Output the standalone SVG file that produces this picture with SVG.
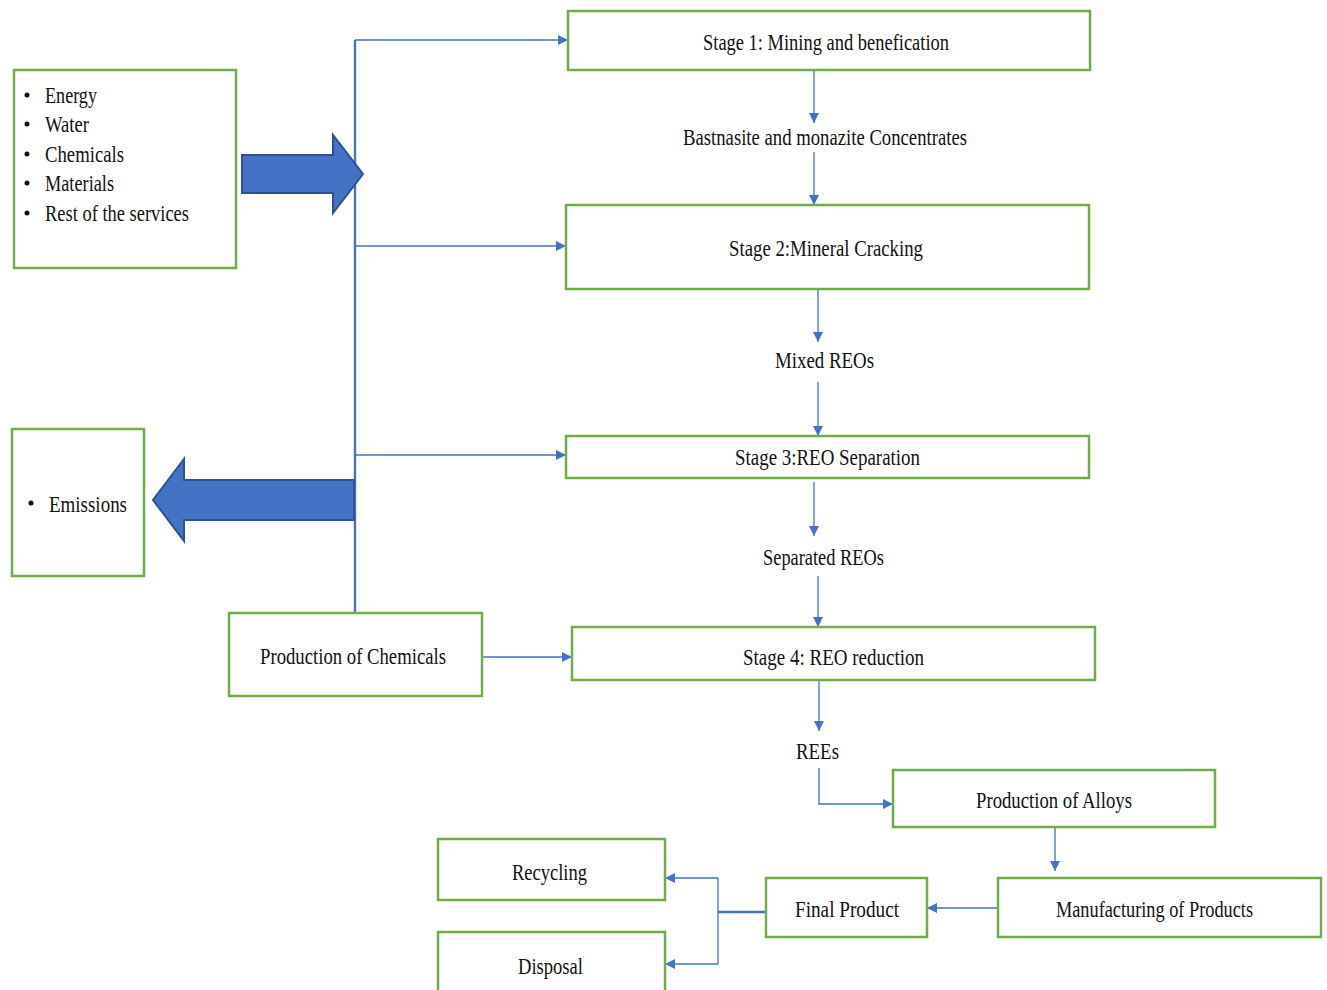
<svg xmlns="http://www.w3.org/2000/svg" width="1327" height="990" viewBox="0 0 1327 990">
  <style>
    .box { fill: #ffffff; stroke: #70AD47; stroke-width: 2.5; }
    .lbl { font-family: "Liberation Serif", "Times New Roman", serif; font-size: 23px; fill: #111111; }
    .link { fill: none; stroke: #4472C4; stroke-width: 1.3; }
    .trunk { fill: none; stroke: #4472C4; stroke-width: 2.4; }
    .bigarrow { fill: #4472C4; stroke: #2F528F; stroke-width: 2; }
  </style>
  <defs>
    <marker id="head" markerUnits="userSpaceOnUse" markerWidth="12" markerHeight="12" refX="10" refY="5" orient="auto">
      <path d="M0,0 L10,5 L0,10 Z" fill="#4472C4"/>
    </marker>
  </defs>

  <rect width="1327" height="990" fill="#ffffff"/>

  <!-- Connectors -->
  <g id="connectors">
    <!-- shared trunk with branches to the stages -->
    <line class="trunk" x1="355" y1="40" x2="355" y2="613"/>
    <line class="link" x1="355" y1="40" x2="568" y2="40" marker-end="url(#head)"/>
    <line class="link" x1="355" y1="246" x2="566" y2="246" marker-end="url(#head)"/>
    <line class="link" x1="355" y1="455" x2="566" y2="455" marker-end="url(#head)"/>

    <!-- main process chain -->
    <line class="link" x1="814" y1="71" x2="814" y2="123" marker-end="url(#head)"/>
    <line class="link" x1="814" y1="152" x2="814" y2="205" marker-end="url(#head)"/>
    <line class="link" x1="818" y1="289" x2="818" y2="342" marker-end="url(#head)"/>
    <line class="link" x1="818" y1="382" x2="818" y2="436" marker-end="url(#head)"/>
    <line class="link" x1="814" y1="482" x2="814" y2="536" marker-end="url(#head)"/>
    <line class="link" x1="818" y1="576" x2="818" y2="627" marker-end="url(#head)"/>
    <line class="link" x1="819" y1="680" x2="819" y2="731" marker-end="url(#head)"/>
    <path class="link" d="M819,768 L819,804 L893,804" marker-end="url(#head)"/>
    <line class="link" x1="1055" y1="827" x2="1055" y2="871" marker-end="url(#head)"/>
    <line class="link" x1="998" y1="908" x2="927" y2="908" marker-end="url(#head)"/>

    <!-- chemicals feed into stage 4 -->
    <line class="link" x1="482" y1="657" x2="572" y2="657" marker-end="url(#head)"/>

    <!-- end of life split -->
    <line class="trunk" x1="766" y1="912" x2="718" y2="912"/>
    <path class="link" d="M718,878 L718,964"/>
    <line class="link" x1="718" y1="878" x2="665" y2="878" marker-end="url(#head)"/>
    <line class="link" x1="718" y1="964" x2="665" y2="964" marker-end="url(#head)"/>

    <!-- block arrows -->
    <path class="bigarrow" d="M242,155 L333,155 L333,135 L363,174 L333,213 L333,193 L242,193 Z"/>
    <path class="bigarrow" d="M354,480 L184,480 L184,459 L153,500 L184,541 L184,520 L354,520 Z"/>
  </g>

  <!-- Nodes -->
  <g id="inputs">
    <rect class="box" x="14" y="70" width="222" height="198"/>
    <g fill="#111111">
      <circle cx="27" cy="95" r="2.5"/>
      <circle cx="27" cy="124" r="2.5"/>
      <circle cx="27" cy="154" r="2.5"/>
      <circle cx="27" cy="183" r="2.5"/>
      <circle cx="27" cy="213" r="2.5"/>
    </g>
    <text class="lbl" x="45" y="103" textLength="52" lengthAdjust="spacingAndGlyphs">Energy</text>
    <text class="lbl" x="45" y="132" textLength="44" lengthAdjust="spacingAndGlyphs">Water</text>
    <text class="lbl" x="45" y="162" textLength="79" lengthAdjust="spacingAndGlyphs">Chemicals</text>
    <text class="lbl" x="45" y="191" textLength="69" lengthAdjust="spacingAndGlyphs">Materials</text>
    <text class="lbl" x="45" y="221" textLength="144" lengthAdjust="spacingAndGlyphs">Rest of the services</text>
  </g>

  <g id="emissions">
    <rect class="box" x="12" y="429" width="132" height="147"/>
    <circle cx="31" cy="503" r="2.5" fill="#111111"/>
    <text class="lbl" x="49" y="512" textLength="78" lengthAdjust="spacingAndGlyphs">Emissions</text>
  </g>

  <g id="stage1">
    <rect class="box" x="568" y="11" width="522" height="59"/>
    <text class="lbl" x="703" y="50" textLength="246" lengthAdjust="spacingAndGlyphs">Stage 1: Mining and benefication</text>
  </g>

  <g id="concentrates">
    <text class="lbl" x="683" y="145" textLength="284" lengthAdjust="spacingAndGlyphs">Bastnasite and monazite Concentrates</text>
  </g>

  <g id="stage2">
    <rect class="box" x="566" y="205" width="523" height="84"/>
    <text class="lbl" x="729" y="256" textLength="194" lengthAdjust="spacingAndGlyphs">Stage 2:Mineral Cracking</text>
  </g>

  <g id="mixed-reos">
    <text class="lbl" x="775" y="368" textLength="99" lengthAdjust="spacingAndGlyphs">Mixed REOs</text>
  </g>

  <g id="stage3">
    <rect class="box" x="566" y="436" width="523" height="42"/>
    <text class="lbl" x="735" y="465" textLength="185" lengthAdjust="spacingAndGlyphs">Stage 3:REO Separation</text>
  </g>

  <g id="separated-reos">
    <text class="lbl" x="763" y="565" textLength="121" lengthAdjust="spacingAndGlyphs">Separated REOs</text>
  </g>

  <g id="stage4">
    <rect class="box" x="572" y="627" width="523" height="53"/>
    <text class="lbl" x="743" y="665" textLength="181" lengthAdjust="spacingAndGlyphs">Stage 4: REO reduction</text>
  </g>

  <g id="chemicals-production">
    <rect class="box" x="229" y="613" width="253" height="83"/>
    <text class="lbl" x="260" y="664" textLength="186" lengthAdjust="spacingAndGlyphs">Production of Chemicals</text>
  </g>

  <g id="rees">
    <text class="lbl" x="796" y="759" textLength="43" lengthAdjust="spacingAndGlyphs">REEs</text>
  </g>

  <g id="alloys">
    <rect class="box" x="893" y="770" width="322" height="57"/>
    <text class="lbl" x="976" y="808" textLength="156" lengthAdjust="spacingAndGlyphs">Production of Alloys</text>
  </g>

  <g id="manufacturing">
    <rect class="box" x="998" y="878" width="323" height="59"/>
    <text class="lbl" x="1056" y="917" textLength="197" lengthAdjust="spacingAndGlyphs">Manufacturing of Products</text>
  </g>

  <g id="final-product">
    <rect class="box" x="766" y="878" width="161" height="59"/>
    <text class="lbl" x="795" y="917" textLength="104" lengthAdjust="spacingAndGlyphs">Final Product</text>
  </g>

  <g id="recycling">
    <rect class="box" x="438" y="839" width="227" height="61"/>
    <text class="lbl" x="512" y="880" textLength="75" lengthAdjust="spacingAndGlyphs">Recycling</text>
  </g>

  <g id="disposal">
    <rect class="box" x="438" y="932" width="227" height="70"/>
    <text class="lbl" x="518" y="974" textLength="65" lengthAdjust="spacingAndGlyphs">Disposal</text>
  </g>
</svg>
